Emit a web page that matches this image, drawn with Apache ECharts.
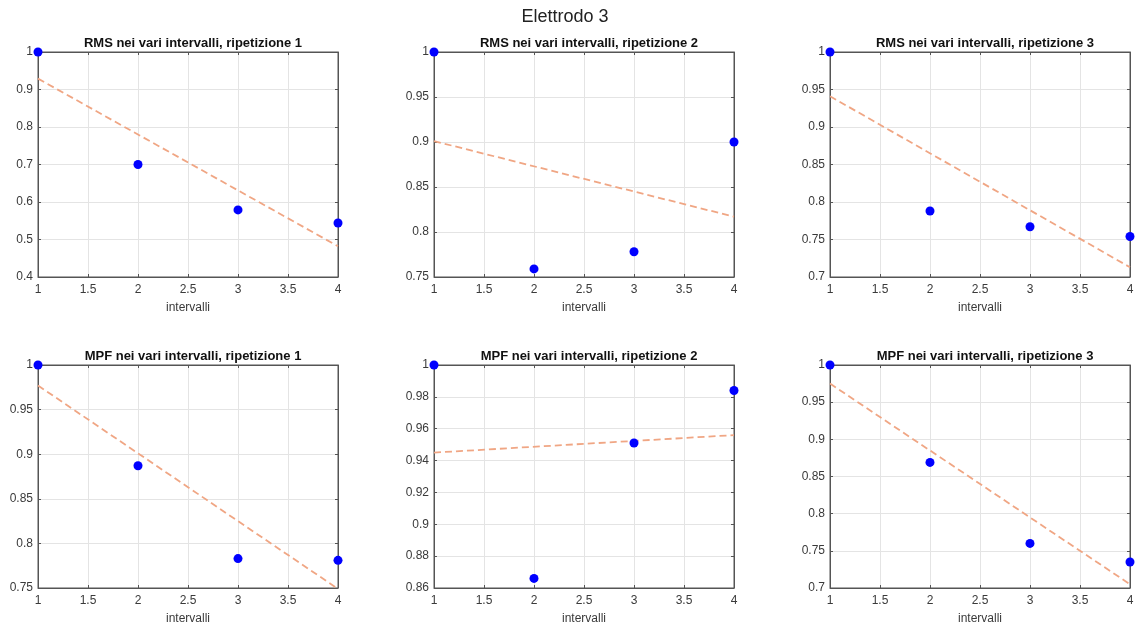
<!DOCTYPE html>
<html>
<head>
<meta charset="utf-8">
<title>Elettrodo 3</title>
<script src="https://cdn.jsdelivr.net/npm/echarts@6/dist/echarts.min.js"></script>
<style>
  html, body { margin: 0; padding: 0; background: #ffffff; }
  #chart { width: 1140px; height: 632px; }
</style>
</head>
<body>
<div id="chart"></div>
<script>
// Intervals on the horizontal axis
const intervals = [1, 2, 3, 4];

// Normalised RMS per interval, repetitions 1-3
const rms1 = [1.000, 0.700, 0.579, 0.544];
const rms2 = [1.000, 0.759, 0.778, 0.900];
const rms3 = [1.000, 0.788, 0.767, 0.754];

// Normalised MPF per interval, repetitions 1-3
const mpf1 = [1.000, 0.887, 0.783, 0.781];
const mpf2 = [1.000, 0.866, 0.951, 0.984];
const mpf3 = [1.000, 0.869, 0.760, 0.735];

// Linear trend, value at interval 1 and interval 4
const trendX = [1, 4];
const rmsTrend1 = [0.929, 0.482];
const rmsTrend2 = [0.901, 0.817];
const rmsTrend3 = [0.941, 0.713];
const mpfTrend1 = [0.977, 0.749];
const mpfTrend2 = [0.945, 0.956];
const mpfTrend3 = [0.975, 0.705];

// Panel titles and y ranges [min, max, step]
const panelTitles = [
  'RMS nei vari intervalli, ripetizione 1',
  'RMS nei vari intervalli, ripetizione 2',
  'RMS nei vari intervalli, ripetizione 3',
  'MPF nei vari intervalli, ripetizione 1',
  'MPF nei vari intervalli, ripetizione 2',
  'MPF nei vari intervalli, ripetizione 3'
];
const yRanges = [
  [0.4, 1, 0.1],
  [0.75, 1, 0.05],
  [0.7, 1, 0.05],
  [0.75, 1, 0.05],
  [0.86, 1, 0.02],
  [0.7, 1, 0.05]
];
const xLabel = 'intervalli';
const mainTitle = 'Elettrodo 3';

const pointSets = [rms1, rms2, rms3, mpf1, mpf2, mpf3];
const trendSets = [rmsTrend1, rmsTrend2, rmsTrend3, mpfTrend1, mpfTrend2, mpfTrend3];

// Panel placement (pixels)
const colLeft = [38, 434, 830];
const panelWidth = 300;
const rowTop = [52, 365];
const rowHeight = [225, 223];

const FONT = '"Liberation Sans", Arial, Helvetica, sans-serif';
const AXIS_COLOR = '#555555';
const LABEL_COLOR = '#3a3a3a';
const GRID_COLOR = '#e4e4e4';

const grids = [], xAxes = [], yAxes = [], series = [];
const titles = [{
  text: mainTitle,
  left: 560, top: 3, textAlign: 'center',
  textStyle: { fontFamily: FONT, fontSize: 18, fontWeight: 'normal', color: '#222' }
}];

for (let i = 0; i < 6; i++) {
  const r = Math.floor(i / 3), c = i % 3;
  grids.push({
    left: colLeft[c], top: rowTop[r], width: panelWidth, height: rowHeight[r],
    show: true, borderColor: AXIS_COLOR, borderWidth: 1, backgroundColor: '#fff'
  });
  titles.push({
    text: panelTitles[i],
    left: colLeft[c] + panelWidth / 2, top: rowTop[r] - 20, textAlign: 'center',
    textStyle: { fontFamily: FONT, fontSize: 13, fontWeight: 'bold', color: '#111' }
  });
  const [ymin, ymax, ystep] = yRanges[i];
  // bottom x axis with labels
  xAxes.push({
    gridIndex: i, type: 'value', min: 1, max: 4, interval: 0.5, position: 'bottom',
    name: xLabel, nameLocation: 'middle', nameGap: 25,
    nameTextStyle: { fontFamily: FONT, fontSize: 12, color: LABEL_COLOR },
    axisLine: { show: true, onZero: false, lineStyle: { color: AXIS_COLOR } },
    axisTick: { show: true, inside: true, length: 3, lineStyle: { color: AXIS_COLOR } },
    axisLabel: { fontFamily: FONT, fontSize: 12, color: LABEL_COLOR, margin: 7 },
    splitLine: { show: true, lineStyle: { color: GRID_COLOR, width: 1 } }
  });
  // top x axis, ticks only
  xAxes.push({
    gridIndex: i, type: 'value', min: 1, max: 4, interval: 0.5, position: 'top',
    axisLine: { show: true, onZero: false, lineStyle: { color: AXIS_COLOR } },
    axisTick: { show: true, inside: true, length: 3, lineStyle: { color: AXIS_COLOR } },
    axisLabel: { show: false }, splitLine: { show: false }
  });
  // left y axis with labels
  yAxes.push({
    gridIndex: i, type: 'value', min: ymin, max: ymax, interval: ystep, position: 'left',
    axisLine: { show: true, onZero: false, lineStyle: { color: AXIS_COLOR } },
    axisTick: { show: true, inside: true, length: 3, lineStyle: { color: AXIS_COLOR } },
    axisLabel: { fontFamily: FONT, fontSize: 12, color: LABEL_COLOR, margin: 5 },
    splitLine: { show: true, lineStyle: { color: GRID_COLOR, width: 1 } }
  });
  // right y axis, ticks only
  yAxes.push({
    gridIndex: i, type: 'value', min: ymin, max: ymax, interval: ystep, position: 'right',
    axisLine: { show: true, onZero: false, lineStyle: { color: AXIS_COLOR } },
    axisTick: { show: true, inside: true, length: 3, lineStyle: { color: AXIS_COLOR } },
    axisLabel: { show: false }, splitLine: { show: false }
  });

  series.push({
    type: 'line',
    xAxisIndex: 2 * i, yAxisIndex: 2 * i,
    data: trendX.map((x, k) => [x, trendSets[i][k]]),
    showSymbol: false, symbol: 'none', clip: false, silent: true,
    lineStyle: { color: '#f0a684', width: 1.8, type: [7, 4] },
    z: 3
  });
  series.push({
    type: 'scatter',
    xAxisIndex: 2 * i, yAxisIndex: 2 * i,
    data: intervals.map((x, k) => [x, pointSets[i][k]]),
    symbol: 'circle', symbolSize: 9, clip: false, silent: true,
    itemStyle: { color: '#0000ff', opacity: 1 },
    z: 4
  });
}

const chart = echarts.init(document.getElementById('chart'), null, { renderer: 'canvas' });
chart.setOption({
  animation: false,
  backgroundColor: '#ffffff',
  title: titles,
  grid: grids,
  xAxis: xAxes,
  yAxis: yAxes,
  series: series
});
</script>
</body>
</html>
